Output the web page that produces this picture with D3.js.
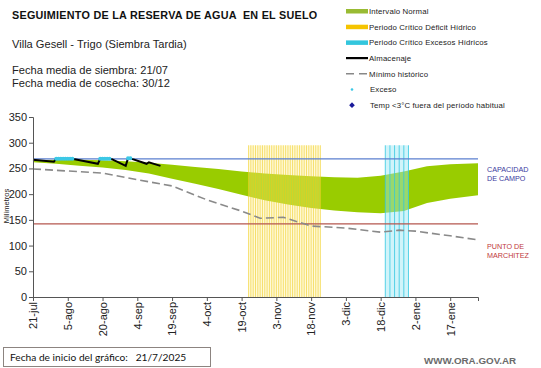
<!DOCTYPE html>
<html><head><meta charset="utf-8">
<script src="https://cdn.jsdelivr.net/npm/d3@7"></script>
<style>body{margin:0;background:#fff}svg{display:block}</style>
</head><body>
<svg id="c" width="541" height="368"></svg>
<script>
// ---------- DATA (day offsets from start date) ----------
const startDate = new Date(2025, 6, 21);
const endDayOffset = 192;
const tickDays = [0, 15, 30, 45, 60, 75, 90, 105, 120, 135, 150, 165, 180];
const tickLabels = ["21-jul", "5-ago", "20-ago", "4-sep", "19-sep", "4-oct", "19-oct", "3-nov", "18-nov", "3-dic", "18-dic", "2-ene", "17-ene"];
const yTicks = [0, 50, 100, 150, 200, 250, 300, 350];

const normalDays  = [0, 10, 20, 30, 40, 50, 60, 70, 80, 90, 100, 110, 120, 130, 140, 150, 160, 170, 180, 192];
const normalUpper = [266, 267, 267, 266, 264, 261, 257, 253, 249, 244, 240, 237, 235, 233, 232, 236, 244, 254, 258, 260];
const normalLower = [262, 259, 255, 252, 247, 240, 230, 220, 210, 199, 188, 180, 173, 168, 165, 163, 167, 183, 191, 198];

const minHistDays   = [0, 15, 30, 45, 60, 75, 90, 98, 108, 120, 135, 150, 158, 165, 180, 192];
const minHistValues = [249, 245, 241, 228, 216, 189, 167, 153, 155, 138, 134, 126, 130, 128, 119, 111];

const almDays   = [0, 9, 10, 17, 18, 28, 29, 33, 34, 40, 41, 42, 43, 49, 50, 55];
const almValues = [267, 263, 269, 269, 268, 259, 269, 269, 268, 255, 270, 270, 268, 259, 262, 255];

const excesoDays   = [10, 11, 12, 13, 14, 15, 16, 17, 29, 30, 31, 32, 33, 41, 42];
const excesoValues = [269, 269, 269, 269, 269, 269, 269, 269, 269, 269, 269, 269, 269, 270, 270];

const deficitPeriodDays = [93, 94, 95, 96, 97, 98, 99, 100, 101, 102, 103, 104, 105, 106, 107, 108, 109, 110, 111, 112, 113, 114, 115, 116, 117, 118, 119, 120, 121, 122, 123];
const excesoPeriodDays = [152, 154, 156, 158, 160];
const periodTop = 295;

const capacidadCampo = 268.5;
const puntoMarchitez = 142;

// ---------- CHART ----------
const svg = d3.select("#c");
const FONT = "'Liberation Sans', Arial, sans-serif";
const day = n => d3.timeDay.offset(startDate, n);

const x = d3.scaleTime().domain([startDate, day(endDayOffset)]).range([33, 478]);
const y = d3.scaleLinear().domain([0, 350]).range([297, 117]);

// normal band
const band = normalDays.map((d, i) => ({d, u: normalUpper[i], l: normalLower[i]}));
svg.append("path").datum(band)
  .attr("fill", "#99cc00")
  .attr("d", d3.area().x(p => x(day(p.d))).y0(p => y(p.l)).y1(p => y(p.u)));

// critical periods
function period(days, width, fill, stroke) {
  const g = svg.append("g");
  g.selectAll("rect").data(days).join("rect")
    .attr("x", d => x(day(d)))
    .attr("width", d => x(day(d + width)) - x(day(d)))
    .attr("y", y(periodTop))
    .attr("height", y(0) - y(periodTop))
    .attr("fill", fill);
  g.selectAll("line").data(days.concat([days[days.length - 1] + width])).join("line")
    .attr("x1", d => x(day(d))).attr("x2", d => x(day(d)))
    .attr("y1", y(periodTop)).attr("y2", y(0))
    .attr("stroke", stroke).attr("stroke-width", 1);
}
period(deficitPeriodDays, 1, "rgba(255,240,150,0.35)", "rgba(240,205,30,0.6)");
period(excesoPeriodDays, 2, "rgba(150,230,245,0.45)", "rgba(50,200,225,0.8)");

// reference lines
svg.append("line").attr("x1", x.range()[0]).attr("x2", x.range()[1])
  .attr("y1", y(capacidadCampo)).attr("y2", y(capacidadCampo))
  .attr("stroke", "#5b7fcf").attr("stroke-width", 1.2);
svg.append("line").attr("x1", x.range()[0]).attr("x2", x.range()[1])
  .attr("y1", y(puntoMarchitez)).attr("y2", y(puntoMarchitez))
  .attr("stroke", "#b5574f").attr("stroke-width", 1.2);

// mínimo histórico
svg.append("path").datum(minHistDays.map((d, i) => [d, minHistValues[i]]))
  .attr("fill", "none").attr("stroke", "#8a8a8a").attr("stroke-width", 1.6)
  .attr("stroke-dasharray", "8,4")
  .attr("d", d3.line().x(p => x(day(p[0]))).y(p => y(p[1])));

// almacenaje
svg.append("path").datum(almDays.map((d, i) => [d, almValues[i]]))
  .attr("fill", "none").attr("stroke", "#000").attr("stroke-width", 2)
  .attr("d", d3.line().x(p => x(day(p[0]))).y(p => y(p[1])));

// exceso
svg.append("g").selectAll("circle").data(excesoDays.map((d, i) => [d, excesoValues[i]])).join("circle")
  .attr("cx", p => x(day(p[0]))).attr("cy", p => y(p[1])).attr("r", 2)
  .attr("fill", "#3cc8e6");

// axes
const yAxis = svg.append("g").attr("transform", `translate(${x.range()[0]},0)`)
  .call(d3.axisLeft(y).tickValues(yTicks).tickSize(4).tickPadding(2));
const xAxis = svg.append("g").attr("transform", `translate(0,${y(0)})`)
  .call(d3.axisBottom(x).tickValues(tickDays.map(day)).tickFormat((d, i) => tickLabels[i]).tickSize(4));
[yAxis, xAxis].forEach(a => {
  a.select(".domain").attr("stroke", "#555");
  a.selectAll(".tick line").attr("stroke", "#555");
  a.selectAll("text").attr("font-family", FONT).attr("font-size", 11).attr("fill", "#222");
});
xAxis.selectAll(".tick text")
  .attr("transform", "rotate(-90)")
  .attr("text-anchor", "end")
  .attr("x", -5).attr("y", 0).attr("dy", "0.35em");

svg.append("text").attr("transform", "translate(9,206) rotate(-90)")
  .attr("text-anchor", "middle").attr("font-family", FONT).attr("font-size", 7.5)
  .attr("fill", "#222").text("Milímetros");

// right labels
const rl = svg.append("g").attr("font-family", FONT).attr("font-size", 7.2);
rl.append("text").attr("x", 487).attr("y", y(capacidadCampo) + 13).attr("fill", "#3a3aa0").text("CAPACIDAD");
rl.append("text").attr("x", 487).attr("y", y(capacidadCampo) + 22).attr("fill", "#3a3aa0").text("DE  CAMPO");
rl.append("text").attr("x", 487).attr("y", y(puntoMarchitez) + 25).attr("fill", "#c0393b").text("PUNTO  DE");
rl.append("text").attr("x", 487).attr("y", y(puntoMarchitez) + 34).attr("fill", "#c0393b").text("MARCHITEZ");

// titles
svg.append("text").attr("x", 12).attr("y", 19).attr("font-family", FONT).attr("font-weight", "bold")
  .attr("font-size", 10.8).attr("letter-spacing", 0.25).attr("fill", "#111")
  .style("white-space", "pre").text("SEGUIMIENTO DE LA RESERVA DE AGUA  EN EL SUELO");
const sub = svg.append("g").attr("font-family", FONT).attr("font-size", 11.1).attr("fill", "#222");
sub.append("text").attr("x", 12).attr("y", 48).text("Villa Gesell - Trigo (Siembra Tardia)");
sub.append("text").attr("x", 12).attr("y", 74).text("Fecha media de siembra: 21/07");
sub.append("text").attr("x", 12).attr("y", 87).text("Fecha media de cosecha: 30/12");

// legend
const legendItems = [
  {label: "Intervalo Normal", type: "rect", color: "#99bb33"},
  {label: "Periodo Crítico Déficit Hídrico", type: "rect", color: "#f5c400"},
  {label: "Periodo Crítico Excesos Hídricos", type: "rect", color: "#33c6dd"},
  {label: "Almacenaje", type: "line", color: "#000"},
  {label: "Mínimo histórico", type: "dash", color: "#888"},
  {label: "Exceso", type: "dot", color: "#3cc8e6"},
  {label: "Temp <3°C fuera del período habitual", type: "diamond", color: "#1a1a9a"}
];
const lg = svg.append("g");
legendItems.forEach((it, i) => {
  const cy = 11 + i * 15.7;
  if (it.type === "rect") lg.append("rect").attr("x", 346).attr("y", cy - 2).attr("width", 22).attr("height", 4.5).attr("fill", it.color);
  if (it.type === "line") lg.append("line").attr("x1", 346).attr("x2", 368).attr("y1", cy).attr("y2", cy).attr("stroke", it.color).attr("stroke-width", 2.2);
  if (it.type === "dash") lg.append("line").attr("x1", 346).attr("x2", 368).attr("y1", cy).attr("y2", cy).attr("stroke", it.color).attr("stroke-width", 1.5).attr("stroke-dasharray", "8,5");
  if (it.type === "dot") lg.append("circle").attr("cx", 352).attr("cy", cy).attr("r", 1.3).attr("fill", it.color);
  if (it.type === "diamond") lg.append("rect").attr("x", -2).attr("y", -2).attr("width", 4).attr("height", 4)
    .attr("transform", `translate(352,${cy}) rotate(45)`).attr("fill", it.color);
  lg.append("text").attr("x", (it.type === "dot" || it.type === "diamond") ? 370 : 369).attr("y", cy + 2.8)
    .attr("font-family", FONT).attr("font-size", 7.8).attr("letter-spacing", 0.15).attr("fill", "#222").text(it.label);
});

// bottom
svg.append("rect").attr("x", 3.5).attr("y", 347.5).attr("width", 207).attr("height", 19)
  .attr("fill", "#fff").attr("stroke", "#8c8480").attr("stroke-width", 1);
svg.append("text").attr("x", 10).attr("y", 361).attr("font-family", "Lato, 'Open Sans', sans-serif")
  .attr("font-size", 10.2).attr("fill", "#111").style("white-space", "pre")
  .text("Fecha de inicio del gráfico:   21/7/2025");
svg.append("text").attr("x", 424).attr("y", 364).attr("font-family", FONT).attr("font-weight", "bold")
  .attr("font-size", 9.8).attr("fill", "#6b6b6b").text("WWW.ORA.GOV.AR");
</script>
</body></html>
